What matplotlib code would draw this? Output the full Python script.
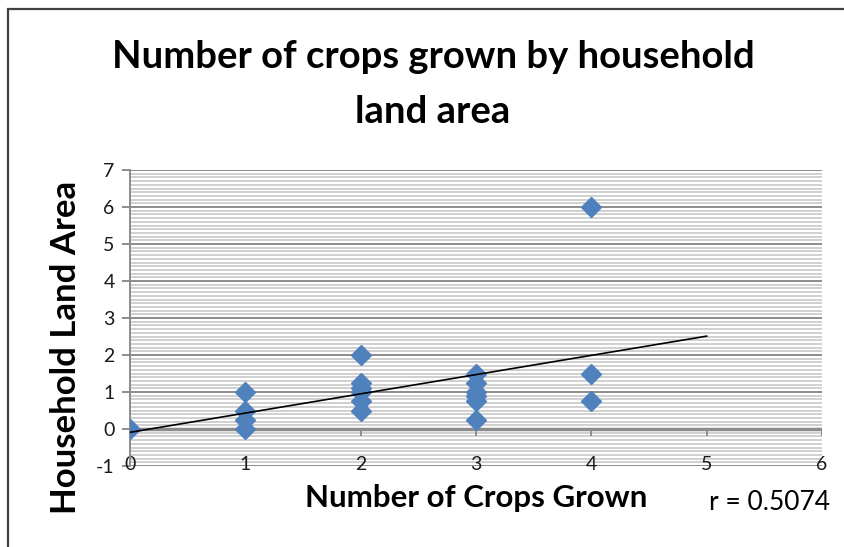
import numpy as np
import matplotlib
matplotlib.use("Agg")
import matplotlib.pyplot as plt
from matplotlib.patches import Rectangle

# crops grown vs household land area
crops = [0, 1, 1, 1, 1, 2, 2, 2, 2, 2, 2, 3, 3, 3, 3, 3, 3, 4, 4, 4]
land_area = [0, 1.0, 0.5, 0.25, 0.0,
             2.0, 1.25, 1.1, 1.0, 0.75, 0.5,
             1.5, 1.25, 1.0, 0.9, 0.75, 0.25,
             6.0, 1.5, 0.75]

# trend line as drawn (x from 0 to 5)
trend_x = [0, 5]
trend_slope = 0.52
trend_intercept = -0.09
r_text = "r = 0.5074"

x_ticks = [0, 1, 2, 3, 4, 5, 6]
y_ticks = [-1, 0, 1, 2, 3, 4, 5, 6, 7]

plt.rcParams['font.family'] = ['Lato', 'DejaVu Sans']
plt.rcParams['axes.unicode_minus'] = False

fig = plt.figure(figsize=(8.44, 5.47), dpi=100)
ax = fig.add_axes([130/844, 81/547, 692/844, 296/547])

# outer frame of the chart area
fig.patches.append(Rectangle((8/844, -0.1), 1.1, (547-9)/547 + 0.1, transform=fig.transFigure,
                             fill=False, edgecolor='#404040', linewidth=1.6))

ax.set_xlim(0, 6)
ax.set_ylim(-1, 7)

# grid: minor every 0.1, major every 1
ax.set_yticks(y_ticks)
ax.set_yticks(np.arange(-1, 7.01, 0.1), minor=True)
ax.grid(which='minor', axis='y', color='#d0d0d0', linewidth=1.4)
ax.grid(which='major', axis='y', color='#8c8c8c', linewidth=1.4)
ax.set_axisbelow(True)
ax.xaxis.set_zorder(2)

for s in ['top', 'right', 'bottom']:
    ax.spines[s].set_visible(False)
ax.spines['left'].set_color('#8c8c8c')
ax.spines['left'].set_linewidth(1.4)
ax.tick_params(axis='y', which='minor', length=0)
ax.tick_params(axis='y', which='major', length=6, width=1.4, color='#8c8c8c',
               labelsize=14, labelcolor='#1a1a1a', pad=5)

# x axis crosses at y = 0, labels sit at the bottom
ax.axhline(0, color='#8c8c8c', linewidth=2.5, zorder=1)
ax.set_xticks(x_ticks)
ax.tick_params(axis='x', length=0, labelsize=14, labelcolor='#1a1a1a', pad=-7.5)
for xv in x_ticks[1:]:
    ax.plot([xv, xv], [0, -0.15], color='#8c8c8c', linewidth=1.4, zorder=1)

ax.plot(crops, land_area, linestyle='none', marker='D', markersize=10,
        color='#4f81bd', zorder=3)

tx = np.array(trend_x)
ax.plot(tx, trend_slope * tx + trend_intercept, color='black', linewidth=1.2, zorder=4)

fig.text(433/844, 1 - 57/547, "Number of crops grown by household", ha='center', va='center',
         fontsize=27.5, fontweight='bold')
fig.text(433/844, 1 - 112/547, "land area", ha='center', va='center',
         fontsize=27.5, fontweight='bold')

fig.text(476/844, 1 - 498/547, "Number of Crops Grown", ha='center', va='center',
         fontsize=22.5, fontweight='bold')
fig.text(66/844, 1 - 347/547, "Household Land Area", ha='center', va='center',
         rotation=90, fontsize=25, fontweight='bold')
fig.text(770/844, 1 - 503/547, r_text, ha='center', va='center', fontsize=19)

fig.savefig("out.png", dpi=100)
